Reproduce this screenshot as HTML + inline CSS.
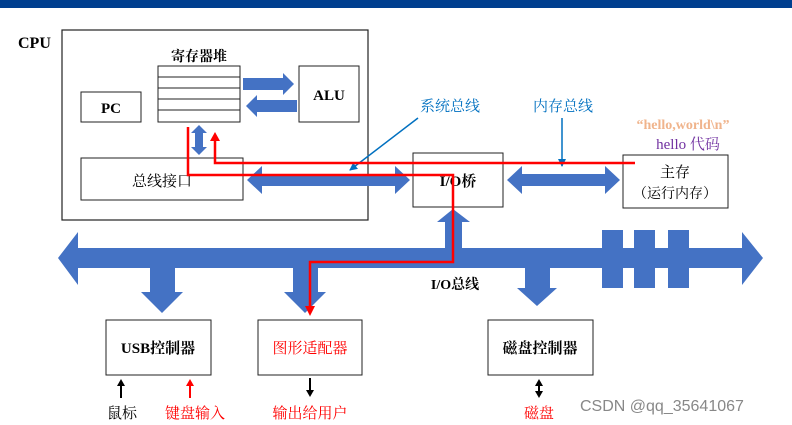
<!DOCTYPE html>
<html><head><meta charset="utf-8"><style>
html,body{margin:0;padding:0;background:#fff;}
svg{display:block;}
text{font-family:"Liberation Serif","Noto Serif CJK SC","Noto Sans CJK SC",serif;}
</style></head><body>
<svg width="792" height="425" viewBox="0 0 792 425" xmlns="http://www.w3.org/2000/svg">
<defs>
<marker id="ar" markerWidth="8" markerHeight="8" refX="7" refY="4" orient="auto" markerUnits="userSpaceOnUse"><path d="M0,0 L8,4 L0,8 z" fill="#0070c0"/></marker>
</defs>
<rect x="0" y="0" width="792" height="8" fill="#003f8f"/>
<text x="18" y="48" font-size="16" font-weight="bold">CPU</text>
<rect x="62" y="30" width="306" height="190" fill="#fff" stroke="#222" stroke-width="1.2"/>
<text x="199" y="61" font-size="14" font-weight="bold" text-anchor="middle">寄存器堆</text>
<g fill="#fff" stroke="#222" stroke-width="1">
<rect x="158" y="66" width="82" height="11"/><rect x="158" y="77" width="82" height="11"/><rect x="158" y="88" width="82" height="11"/><rect x="158" y="99" width="82" height="11"/><rect x="158" y="110" width="82" height="12"/>
<rect x="81" y="92" width="60" height="30"/>
<rect x="299" y="66" width="60" height="56"/>
<rect x="81" y="158" width="162" height="42"/>
<rect x="413" y="153" width="90" height="54"/>
<rect x="623" y="155" width="105" height="53"/>
<rect x="106" y="320" width="105" height="55"/>
<rect x="258" y="320" width="104" height="55"/>
<rect x="488" y="320" width="105" height="55"/>
</g>
<text x="111" y="113" font-size="15" font-weight="bold" text-anchor="middle">PC</text>
<text x="329" y="100" font-size="15" font-weight="bold" text-anchor="middle">ALU</text>
<text x="162" y="186" font-size="15" text-anchor="middle">总线接口</text>
<text x="458" y="186" font-size="15" font-weight="bold" text-anchor="middle">I/O桥</text>
<text x="675" y="177" font-size="15" text-anchor="middle">主存</text>
<text x="675" y="198" font-size="14" text-anchor="middle">（运行内存）</text>
<g fill="#4472c4">
<path d="M243,78 L283,78 L283,73 L294,84 L283,95 L283,90 L243,90 z"/>
<path d="M297,100 L257,100 L257,95 L246,106 L257,117 L257,112 L297,112 z"/>
<path d="M199,125 L207,133 L203,133 L203,147 L207,147 L199,155 L191,147 L195,147 L195,133 L191,133 z"/>
<path d="M247,180 L262,166 L262,174 L395,174 L395,166 L410,180 L395,194 L395,186 L262,186 L262,194 z"/>
<path d="M507,180 L522,166 L522,174 L605,174 L605,166 L620,180 L605,194 L605,186 L522,186 L522,194 z"/>
<path d="M58,258 L78,232 L78,248 L742,248 L742,232 L763,258 L742,285 L742,268 L78,268 L78,285 z"/>
<path d="M445,250 L445,222 L437,222 L453,209 L470,222 L462,222 L462,250 z"/>
<rect x="602" y="230" width="21" height="58"/><rect x="634" y="230" width="21" height="58"/><rect x="668" y="230" width="21" height="58"/>
<path d="M150,266 L175,266 L175,292 L183,292 L162,313 L141,292 L150,292 z"/>
<path d="M293,266 L318,266 L318,292 L326,292 L305,313 L284,292 L293,292 z"/>
<path d="M525,266 L550,266 L550,288 L557,288 L537,306 L517,288 L525,288 z"/>
</g>
<text x="450" y="111" font-size="15" fill="#0070c0" text-anchor="middle">系统总线</text>
<line x1="418" y1="118" x2="350" y2="170" stroke="#0070c0" stroke-width="1.5" marker-end="url(#ar)"/>
<text x="563" y="111" font-size="15" fill="#0070c0" text-anchor="middle">内存总线</text>
<line x1="562" y1="118" x2="562" y2="166" stroke="#0070c0" stroke-width="1.5" marker-end="url(#ar)"/>
<text x="683" y="129" font-size="14" font-weight="bold" fill="#f0b48c" text-anchor="middle">“hello,world\n”</text>
<text x="688" y="149" font-size="15" fill="#7030a0" text-anchor="middle">hello 代码</text>
<g fill="none" stroke="#ff0000" stroke-width="2.5">
<polyline points="188,127 188,175 453,175 453,262 310,262 310,310"/>
<polyline points="215,140 215,163 635,163"/>
</g>
<path d="M215,132 L220,141 L210,141 z" fill="#ff0000"/>
<path d="M310,316 L305,306 L315,306 z" fill="#ff0000"/>
<text x="455" y="289" font-size="14" font-weight="bold" text-anchor="middle">I/O总线</text>
<text x="158" y="353" font-size="15" font-weight="bold" text-anchor="middle">USB控制器</text>
<text x="310" y="353" font-size="15" fill="#ff0000" text-anchor="middle">图形适配器</text>
<text x="540" y="353" font-size="15" font-weight="bold" text-anchor="middle">磁盘控制器</text>
<line x1="121" y1="398" x2="121" y2="384" stroke="#000" stroke-width="2"/><path d="M121,379 L125,386 L117,386 z"/>
<line x1="190" y1="398" x2="190" y2="384" stroke="#f00" stroke-width="2"/><path d="M190,379 L194,386 L186,386 z" fill="#f00"/>
<line x1="310" y1="378" x2="310" y2="392" stroke="#000" stroke-width="2"/><path d="M310,397 L314,390 L306,390 z"/>
<line x1="539" y1="384" x2="539" y2="393" stroke="#000" stroke-width="2"/><path d="M539,379 L543,386 L535,386 z"/><path d="M539,398 L543,391 L535,391 z"/>
<text x="122" y="418" font-size="15" text-anchor="middle">鼠标</text>
<text x="195" y="418" font-size="15" fill="#ff0000" text-anchor="middle">键盘输入</text>
<text x="310" y="418" font-size="15" fill="#ff0000" text-anchor="middle">输出给用户</text>
<text x="539" y="418" font-size="15" fill="#ff0000" text-anchor="middle">磁盘</text>
<text x="580" y="411" font-size="16" fill="#888" style="font-family:'Liberation Sans',sans-serif">CSDN @qq_35641067</text>
</svg>
</body></html>
